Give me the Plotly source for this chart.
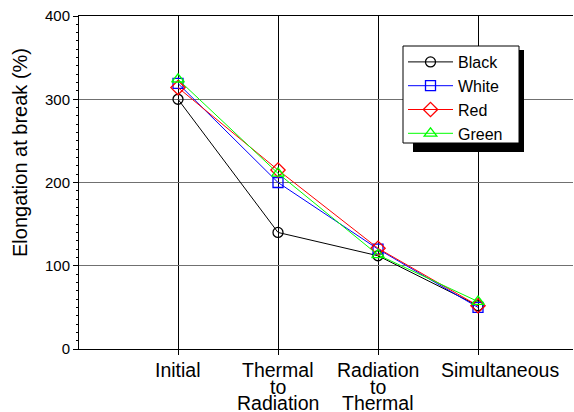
import plotly.graph_objects as go

categories = ["Initial", "Thermal\nto\nRadiation", "Radiation\nto\nThermal", "Simultaneous"]
x_pos = [1, 2, 3, 4]
black = [300, 140, 112, 52]
white = [319, 200, 120, 50]
red = [314, 215, 121, 52]
green = [324, 211, 113, 57]

series = [
    ("Black", black, "#000000", "circle-open", 10),
    ("White", white, "#0000ff", "square-open", 10),
    ("Red", red, "#ff0000", "diamond-open", 11),
    ("Green", green, "#00ff00", "triangle-up-open", 11),
]

FONT = "Arial, Liberation Sans, sans-serif"

fig = go.Figure()
for name, vals, col, sym, sz in series:
    fig.add_trace(go.Scatter(
        x=x_pos, y=vals, name=name, mode="lines+markers",
        line=dict(color=col, width=1),
        marker=dict(symbol=sym, size=sz, color=col, line=dict(color=col, width=1.3)),
    ))

L, T, W, H = 79, 16, 494, 333
def px_x(p):
    return (p - L) / W
def px_y(p):
    return (T + H - p) / H

# x tick labels as stacked lines
label_xshift = [0, 0, 0, 22]
annotations = []
for xi, cat, xs in zip(x_pos, categories, label_xshift):
    for k, line in enumerate(cat.split("\n")):
        annotations.append(dict(
            x=xi, y=0, xref="x", yref="paper", text=line, showarrow=False,
            yanchor="middle", xanchor="center", yshift=-21 - k * 16.5, xshift=xs,
            font=dict(family=FONT, size=19.5, color="#000"),
        ))
# y axis title
annotations.append(dict(
    x=px_x(20), y=px_y(153), xref="paper", yref="paper", text="Elongation at break (%)",
    showarrow=False, textangle=-90, xanchor="center", yanchor="middle",
    font=dict(family=FONT, size=20, color="#000"),
))

fig.update_layout(
    width=574, height=412,
    margin=dict(l=L, r=574 - L - W, t=T, b=412 - T - H),
    paper_bgcolor="white", plot_bgcolor="white",
    font=dict(family=FONT, size=15, color="#000"),
    showlegend=True,
    legend=dict(
        x=px_x(403), y=px_y(45), xanchor="left", yanchor="top",
        bgcolor="rgba(0,0,0,0)", borderwidth=0,
        font=dict(family=FONT, size=16, color="#000"),
        itemwidth=45,
    ),
    annotations=annotations,
    shapes=[
        dict(type="rect", xref="paper", yref="paper",
             x0=px_x(413), x1=px_x(524), y0=px_y(152), y1=px_y(50),
             fillcolor="black", line=dict(width=0), layer="above"),
        dict(type="rect", xref="paper", yref="paper",
             x0=px_x(403), x1=px_x(519), y0=px_y(143), y1=px_y(46),
             fillcolor="white", line=dict(width=1, color="black"), layer="above"),
    ],
    xaxis=dict(
        range=[0.01, 4.95], tickvals=x_pos, showticklabels=False,
        ticks="outside", ticklen=5, tickcolor="black",
        showgrid=True, gridcolor="black", gridwidth=1,
        showline=True, linecolor="black", linewidth=1, mirror=True,
        zeroline=False,
    ),
    yaxis=dict(
        range=[0, 400], dtick=100, tick0=0,
        ticks="outside", ticklen=5, tickcolor="black",
        minor=dict(dtick=10, ticks="outside", ticklen=2, tickcolor="black", showgrid=False),
        showgrid=True, gridcolor="#707070", gridwidth=1,
        showline=True, linecolor="black", linewidth=1,
        zeroline=False,
        tickfont=dict(family=FONT, size=15, color="#000"),
    ),
)

fig.write_html("out.html")
